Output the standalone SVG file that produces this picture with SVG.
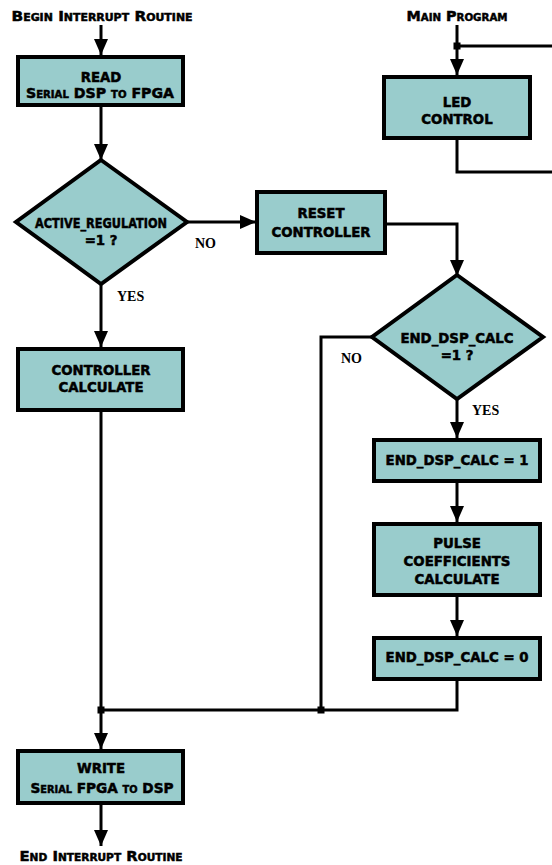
<svg xmlns="http://www.w3.org/2000/svg" width="552" height="865" viewBox="0 0 552 865">
<style>
.box{fill:#99CCCC;stroke:#000;stroke-width:4}
.ln{fill:none;stroke:#000;stroke-width:3}
.t{font-family:"DejaVu Sans",Verdana,sans-serif;font-weight:bold;font-size:13.3px;text-anchor:middle;fill:#000;stroke:#000;stroke-width:0.5}
.sc{font-variant:small-caps;font-size:14px}
.lbl{font-family:"Liberation Serif","Times New Roman",serif;font-weight:bold;font-size:14px;fill:#000}
</style>
<defs>
<marker id="ah" markerUnits="userSpaceOnUse" markerWidth="16" markerHeight="14" viewBox="0 0 16 14" refX="16" refY="7" orient="auto">
<path d="M0,0 L16,7 L0,14 Z" fill="#000"/>
</marker>
</defs>
<g id="connectors">
<path class="ln" d="M101,25 V55" marker-end="url(#ah)"/>
<path class="ln" d="M101,107 V160" marker-end="url(#ah)"/>
<path class="ln" d="M187,222 H256" marker-end="url(#ah)"/>
<path class="ln" d="M101,283 V347" marker-end="url(#ah)"/>
<path class="ln" d="M387,224 H457 V276" marker-end="url(#ah)"/>
<path class="ln" d="M457,398 V438" marker-end="url(#ah)"/>
<path class="ln" d="M457,483 V522" marker-end="url(#ah)"/>
<path class="ln" d="M457,597 V636" marker-end="url(#ah)"/>
<path class="ln" d="M457,681 V710 H101"/>
<path class="ln" d="M372,337 H321 V710"/>
<path class="ln" d="M101,412 V749" marker-end="url(#ah)"/>
<path class="ln" d="M101,805 V846" marker-end="url(#ah)"/>
<path class="ln" d="M457,25 V75" marker-end="url(#ah)"/>
<path class="ln" d="M457,46 H552"/>
<path class="ln" d="M457,140 V172 H552"/>
<rect x="97.5" y="706.5" width="7" height="7" fill="#000"/>
<rect x="317.5" y="706.5" width="7" height="7" fill="#000"/>
<rect x="453.5" y="42.5" width="7" height="7" fill="#000"/>
<text class="lbl" x="195" y="248">NO</text>
<text class="lbl" x="117" y="301">YES</text>
<text class="lbl" x="341" y="363">NO</text>
<text class="lbl" x="472" y="415">YES</text>
</g>
<g id="begin"><text class="t sc" x="102" y="21" textLength="181" lengthAdjust="spacingAndGlyphs">Begin Interrupt Routine</text></g>
<g id="main"><text class="t sc" x="457" y="21" textLength="101" lengthAdjust="spacingAndGlyphs">Main Program</text></g>
<g id="end"><text class="t sc" x="101" y="861" textLength="163" lengthAdjust="spacingAndGlyphs">End Interrupt Routine</text></g>
<g id="read">
<rect class="box" x="18" y="57" width="165" height="48"/>
<text class="t" x="101" y="82">READ</text>
<text class="t sc" x="100" y="98" textLength="148" lengthAdjust="spacingAndGlyphs">Serial DSP to FPGA</text>
</g>
<g id="led">
<rect class="box" x="384" y="77" width="146" height="61"/>
<text class="t" x="457" y="107">LED</text>
<text class="t" x="457" y="124">CONTROL</text>
</g>
<g id="active">
<polygon class="box" points="101,160 187,222 101,284 16,222"/>
<text class="t" x="101" y="228" textLength="132" lengthAdjust="spacingAndGlyphs">ACTIVE_REGULATION</text>
<text class="t" x="101" y="245">=1 ?</text>
</g>
<g id="reset">
<rect class="box" x="257" y="192" width="128" height="61"/>
<text class="t" x="321" y="218">RESET</text>
<text class="t" x="321" y="237">CONTROLLER</text>
</g>
<g id="enddsp">
<polygon class="box" points="457,275 543,337 457,399 372,337"/>
<text class="t" x="457" y="343">END_DSP_CALC</text>
<text class="t" x="457" y="360">=1 ?</text>
</g>
<g id="ctrl">
<rect class="box" x="18" y="349" width="165" height="61"/>
<text class="t" x="101" y="375">CONTROLLER</text>
<text class="t" x="101" y="392">CALCULATE</text>
</g>
<g id="end1">
<rect class="box" x="374" y="440" width="166" height="41"/>
<text class="t" x="457" y="465" font-size="13.5">END_DSP_CALC = 1</text>
</g>
<g id="pulse">
<rect class="box" x="374" y="524" width="166" height="71"/>
<text class="t" x="457" y="548">PULSE</text>
<text class="t" x="457" y="566">COEFFICIENTS</text>
<text class="t" x="457" y="584">CALCULATE</text>
</g>
<g id="end0">
<rect class="box" x="374" y="638" width="166" height="41"/>
<text class="t" x="457" y="662" font-size="13.5">END_DSP_CALC = 0</text>
</g>
<g id="write">
<rect class="box" x="18" y="751" width="165" height="52"/>
<text class="t" x="101" y="773">WRITE</text>
<text class="t sc" x="102" y="793" textLength="143" lengthAdjust="spacingAndGlyphs">Serial FPGA to DSP</text>
</g>
</svg>
